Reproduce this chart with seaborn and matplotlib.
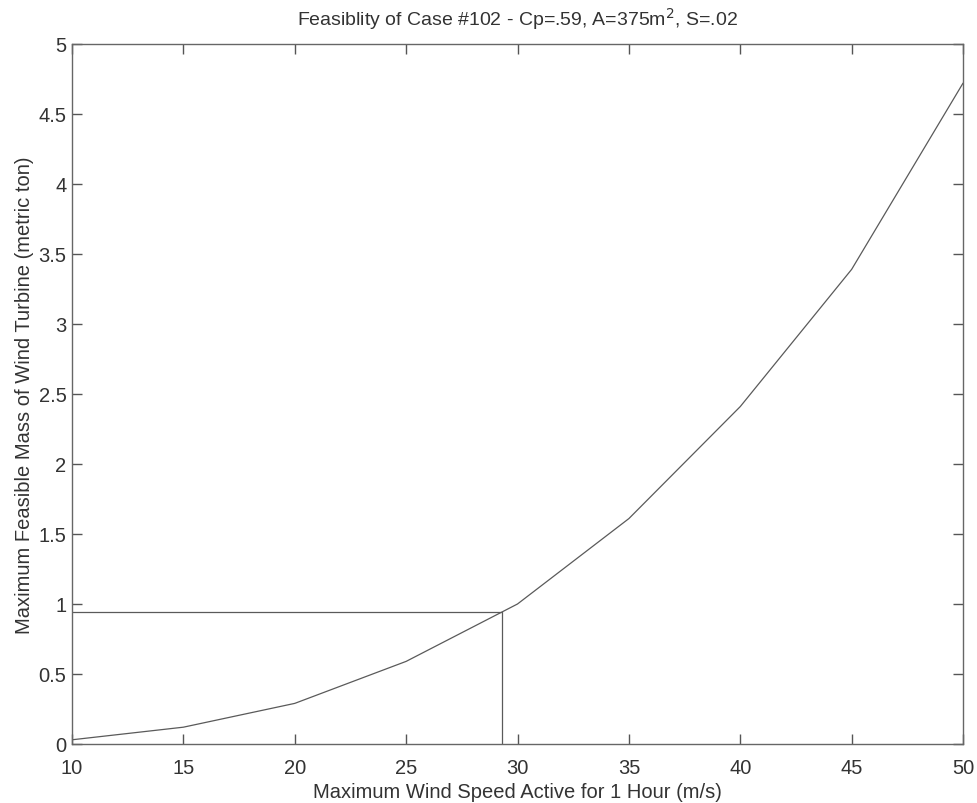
import pandas as pd
import matplotlib.pyplot as plt
import seaborn as sns

# Data
wind_speed = [10, 15, 20, 25, 30, 35, 40, 45, 50]
feasible_mass = [0.03, 0.12, 0.29, 0.59, 1.00, 1.61, 2.41, 3.39, 4.72]

# operating point marker lines
op_speed = 29.3
op_mass = 0.94

df = pd.DataFrame({"speed": wind_speed, "mass": feasible_mass})

sns.set_style("ticks")
plt.rcParams["font.family"] = ["Liberation Sans", "DejaVu Sans"]

fig = plt.figure(figsize=(9.77, 8.04), dpi=100)
ax = fig.add_axes([0.0737, 0.0734, 0.912, 0.8707])

line_col = "#5a5a5a"
sns.lineplot(data=df, x="speed", y="mass", ax=ax, color=line_col, linewidth=0.9)
ax.plot([10, op_speed], [op_mass, op_mass], color=line_col, linewidth=0.9)
ax.plot([op_speed, op_speed], [0, op_mass], color=line_col, linewidth=0.9)

ax.set_xlim(10, 50)
ax.set_ylim(0, 5)
ax.set_xticks(range(10, 51, 5))
ax.set_yticks([0, 0.5, 1, 1.5, 2, 2.5, 3, 3.5, 4, 4.5, 5])
ax.set_yticklabels(["0", "0.5", "1", "1.5", "2", "2.5", "3", "3.5", "4", "4.5", "5"])
ax.tick_params(direction="in", length=7, width=1.0, color="#555555",
               bottom=True, left=True, top=True, right=True,
               labelsize=14.5, labelcolor="#333333")
ax.tick_params(axis="y", pad=4)
ax.tick_params(axis="x", pad=10)
for s in ax.spines.values():
    s.set_visible(True)
    s.set_color("#666666")
    s.set_linewidth(1.0)

ax.set_xlabel("Maximum Wind Speed Active for 1 Hour (m/s)", fontsize=14.5, color="#333333", labelpad=4)
ax.set_ylabel("Maximum Feasible Mass of Wind Turbine (metric ton)", fontsize=14.5, color="#333333", labelpad=3)
ax.set_title("Feasiblity of Case #102 - Cp=.59, A=375m$^2$, S=.02", fontsize=14, color="#333333", pad=14)

fig.savefig("out.png", dpi=100, facecolor="white")
